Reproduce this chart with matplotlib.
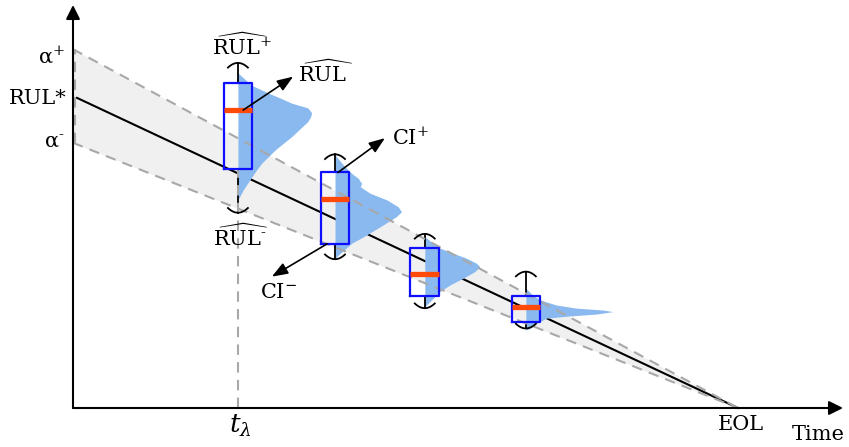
import numpy as np
import matplotlib
matplotlib.use("Agg")
import matplotlib.pyplot as plt

plt.rcParams['font.family'] = ['DejaVu Serif']
plt.rcParams['mathtext.fontset'] = 'dejavuserif'

# ---------------- data ----------------
EOL = 100.0            # end of life (time units)
RUL_STAR0 = 100.0      # true RUL at t=0
ALPHA = 0.15           # accuracy band half-width (relative)

# prediction instants (time) and box statistics (RUL units)
box_t = [24.8, 39.4, 52.9, 68.1]
box_whislo = [62.6, 47.7, 32.0, 25.5]
box_q1 = [76.6, 52.6, 36.0, 27.7]
box_med = [95.5, 66.9, 42.9, 32.5]
box_q3 = [104.1, 75.5, 51.4, 35.9]
box_whishi = [110.6, 81.3, 55.8, 43.7]

# predicted RUL densities: RUL level and half-violin width (time units)
dens1_r = [107.4, 103.5, 101.0, 99.3, 97.7, 96.2, 94.6, 93.2, 91.8, 89.4, 87.0, 84.8, 82.7, 80.6, 78.5, 76.3, 74.1, 69.9, 66.7]
dens1_w = [0.0, 2.0, 4.5, 6.4, 8.1, 10.5, 11.1, 10.9, 10.5, 9.3, 8.1, 6.8, 5.6, 4.6, 3.6, 2.8, 2.1, 0.8, 0.0]
dens2_r = [81.1, 77.3, 75.2, 73.6, 72.0, 70.9, 68.8, 66.7, 64.5, 62.9, 61.3, 58.1, 54.9, 52.8, 49.6, 48.0]
dens2_w = [0.0, 1.5, 2.5, 3.5, 4.0, 3.8, 5.3, 7.8, 9.5, 10.0, 9.2, 6.8, 4.3, 2.5, 0.8, 0.0]
dens3_r = [54.9, 52.8, 51.2, 49.6, 48.0, 46.4, 45.3, 43.7, 41.6, 39.4, 37.3, 34.6, 32.5]
dens3_w = [0.0, 1.25, 2.26, 4.26, 6.27, 7.77, 8.27, 7.52, 5.76, 3.76, 2.26, 1.0, 0.0]
dens4_r = [38.4, 36.2, 34.6, 33.0, 32.0, 31.4, 30.9, 30.1, 29.5, 28.8, 27.1, 25.5, 25.0]
dens4_w = [0.0, 1.0, 2.2, 4.6, 7.6, 11.6, 13.1, 10.6, 6.6, 3.1, 1.6, 0.6, 0.0]
dens_r = [dens1_r, dens2_r, dens3_r, dens4_r]
dens_w = [dens1_w, dens2_w, dens3_w, dens4_w]

t_lambda = box_t[0]

# ---------------- figure ----------------
W, H = 849, 447
fig = plt.figure(figsize=(W / 100, H / 100), dpi=100)
ax = fig.add_axes([0, 0, 1, 1])
x0_px, eol_px = 73, 738
y0_px, rul_px = 408, 96
sx = (eol_px - x0_px) / EOL
sy = (y0_px - rul_px) / RUL_STAR0
ax.set_xlim(-x0_px / sx, (W - x0_px) / sx)
ax.set_ylim(-(H - y0_px) / sy, y0_px / sy)
ax.axis('off')

band_t = np.array([0.0, EOL])
upper = RUL_STAR0 * (1 + ALPHA) * (1 - band_t / EOL)
lower = RUL_STAR0 * (1 - ALPHA) * (1 - band_t / EOL)
true_rul = RUL_STAR0 * (1 - band_t / EOL)

ax.fill_between(band_t, lower, upper, color='#f0f0f0', lw=0, zorder=1)
ax.plot([0.6, EOL], RUL_STAR0 * (1 - np.array([0.6, EOL]) / EOL), color='black', lw=1.5, zorder=2)

for t, r, w in zip(box_t, dens_r, dens_w):
    r = np.array(r); w = np.array(w)
    ax.fill_betweenx(r, t, t + w, color='#8ab9ef', lw=0, zorder=3)

dash = dict(color='#a8a8a8', lw=1.5, ls=(0, (5, 3.5)), zorder=4.6)
ax.plot(band_t, upper, **dash)
ax.plot(band_t, lower, **dash)
ax.plot([0.35, 0.35], [lower[0], upper[0]], **dash)
ax.plot([t_lambda, t_lambda], [0, box_q1[0]], **dash)

stats = [dict(med=m, q1=a, q3=b, whislo=lo, whishi=hi, fliers=[])
         for m, a, b, lo, hi in zip(box_med, box_q1, box_q3, box_whislo, box_whishi)]
ax.bxp(stats, positions=box_t, widths=4.3, showcaps=False, showfliers=False,
       manage_ticks=False,
       boxprops=dict(color='#0f0fff', lw=1.6, zorder=5),
       whiskerprops=dict(color='black', lw=1.3, zorder=4.5),
       medianprops=dict(color='#ff4a0a', lw=3.8, solid_capstyle='butt', zorder=6))
ax.axis('off')

# curved caps
u = np.linspace(-1, 1, 30)
cap_hw, cap_h = 1.5, 1.5
for t, lo, hi in zip(box_t, box_whislo, box_whishi):
    ax.plot(t + cap_hw * u, hi - cap_h * u ** 2, color='black', lw=1.3, zorder=5)
    ax.plot(t + cap_hw * u, lo + cap_h * u ** 2, color='black', lw=1.3, zorder=5)

# axes with arrows
axprops = dict(arrowstyle='-|>,head_length=0.7,head_width=0.35', color='black', lw=1.5,
               mutation_scale=12, shrinkA=0, shrinkB=0)
ax.annotate('', xy=(0, (y0_px - 5) / sy), xytext=(0, 0), arrowprops=axprops, zorder=8)
ax.annotate('', xy=((843 - x0_px) / sx, 0), xytext=(0, 0), arrowprops=axprops, zorder=8)

# pointer arrows
pprops = dict(arrowstyle='-|>,head_length=0.8,head_width=0.3', color='black', lw=1.2,
              mutation_scale=12, shrinkA=0, shrinkB=0)
ax.annotate('', xy=(33.1, 106.2), xytext=(25.6, box_med[0]), arrowprops=pprops, zorder=7)
ax.annotate('', xy=(46.9, 86.5), xytext=(39.85, box_q3[1]), arrowprops=pprops, zorder=7)
ax.annotate('', xy=(29.9, 42.1), xytext=(38.2, box_q1[1]), arrowprops=pprops, zorder=7)

fs = 15
txt = dict(fontsize=fs, zorder=9)
ax.text(-1.2, 110.6, 'α$^{+}$', ha='right', va='baseline', **txt)
ax.text(-0.9, 97.4, 'RUL*', ha='right', va='baseline', **txt)
ax.text(-1.2, 83.3, 'α$^{\u2010}$', ha='right', va='baseline', **txt)
ax.text(25.4, 113.1, r'$\widehat{\mathrm{RUL}}^{+}$', ha='center', va='baseline', **txt)
ax.text(25.2, 51.9, r'$\widehat{\mathrm{RUL}}^{\mathrm{\u2010}}$'.replace('\\u2010', '\u2010'),
        ha='center', va='baseline', **txt)
ax.text(33.8, 104.5, r'$\widehat{\mathrm{RUL}}$', ha='left', va='baseline', **txt)
ax.text(48.0, 84.3, r'CI$^{+}$', ha='left', va='baseline', **txt)
ax.text(28.1, 35.3, r'CI$^{-}$', ha='left', va='baseline', **txt)
ax.text(100.5, -2.2, 'EOL', ha='center', va='top', **txt)
ax.text(116.1, -10.3, 'Time', ha='right', va='baseline', **txt)
ax.text(t_lambda + 0.3, -8.0, r'$t_{\lambda}$', ha='center', va='baseline', fontsize=19, zorder=9)

fig.savefig('out.png', dpi=100)
